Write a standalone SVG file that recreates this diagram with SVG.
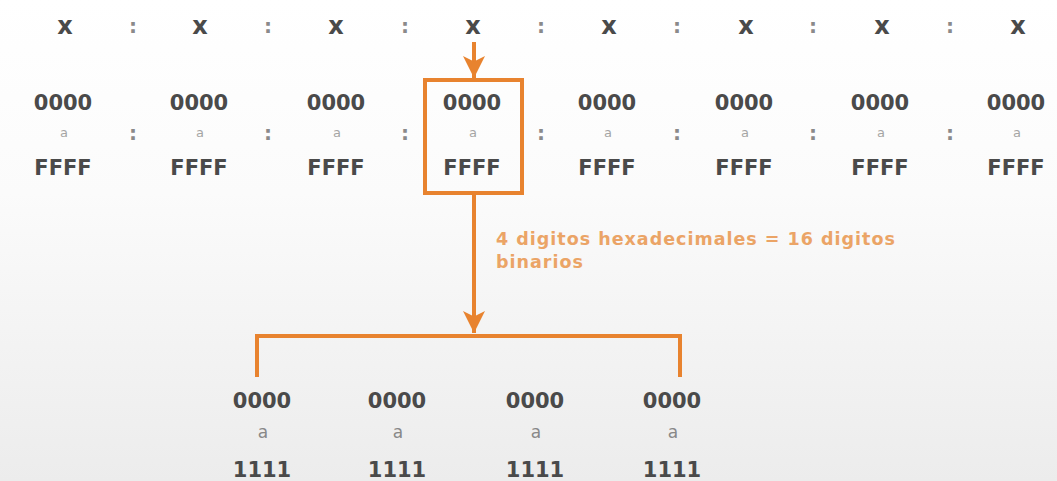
<svg xmlns="http://www.w3.org/2000/svg" width="1057" height="481" viewBox="0 0 1057 481">
<defs>
<linearGradient id="bg" x1="0" y1="0" x2="0" y2="1">
<stop offset="0" stop-color="#ffffff"/>
<stop offset="0.4" stop-color="#fbfbfb"/>
<stop offset="1" stop-color="#ececec"/>
</linearGradient>
<marker id="ah" viewBox="0 0 10 10" refX="10" refY="5" markerWidth="5.5" markerHeight="5.5" markerUnits="strokeWidth" orient="auto">
<path d="M0,0 L10,5 L0,10 L2.5,5 Z" fill="#e8832f"/>
</marker>
<style>
.t{font-family:"DejaVu Sans",sans-serif;font-weight:bold;fill:#4a4a4a;text-anchor:middle}
.x{font-size:24px}
.n{font-size:21px}
.a{font-family:"DejaVu Sans",sans-serif;font-size:13px;fill:#a5a5a5;text-anchor:middle}
.ab{font-family:"DejaVu Sans",sans-serif;font-size:17px;fill:#888888;text-anchor:middle}
.c{font-family:"DejaVu Sans",sans-serif;font-weight:bold;font-size:20px;fill:#8a8a8a;text-anchor:middle}
.ln{fill:none;stroke:#e8832f;stroke-width:4}
.lbl{font-family:"DejaVu Sans",sans-serif;font-weight:bold;font-size:17.5px;letter-spacing:1px;fill:#eba466}
</style>
</defs>
<rect width="1057" height="481" fill="url(#bg)"/>

<g id="top-row">
<text class="t x" x="65" y="34">x</text>
<text class="t x" x="200" y="34">x</text>
<text class="t x" x="336" y="34">x</text>
<text class="t x" x="473" y="34">x</text>
<text class="t x" x="609" y="34">x</text>
<text class="t x" x="746" y="34">x</text>
<text class="t x" x="882" y="34">x</text>
<text class="t x" x="1018" y="34">x</text>
<text class="c" x="133" y="33">:</text>
<text class="c" x="268" y="33">:</text>
<text class="c" x="405" y="33">:</text>
<text class="c" x="541" y="33">:</text>
<text class="c" x="677" y="33">:</text>
<text class="c" x="813" y="33">:</text>
<text class="c" x="950" y="33">:</text>
</g>

<g id="hextet-1"><text class="t n" x="63" y="110">0000</text><text class="a" x="64" y="137">a</text><text class="t n" x="63" y="175">FFFF</text></g>
<g id="hextet-2"><text class="t n" x="199" y="110">0000</text><text class="a" x="200" y="137">a</text><text class="t n" x="199" y="175">FFFF</text></g>
<g id="hextet-3"><text class="t n" x="336" y="110">0000</text><text class="a" x="337" y="137">a</text><text class="t n" x="336" y="175">FFFF</text></g>
<g id="hextet-4"><rect x="425" y="80" width="97" height="113" fill="none" stroke="#e8832f" stroke-width="4"/><text class="t n" x="472" y="110">0000</text><text class="a" x="473" y="137">a</text><text class="t n" x="472" y="175">FFFF</text></g>
<g id="hextet-5"><text class="t n" x="607" y="110">0000</text><text class="a" x="608" y="137">a</text><text class="t n" x="607" y="175">FFFF</text></g>
<g id="hextet-6"><text class="t n" x="744" y="110">0000</text><text class="a" x="745" y="137">a</text><text class="t n" x="744" y="175">FFFF</text></g>
<g id="hextet-7"><text class="t n" x="880" y="110">0000</text><text class="a" x="881" y="137">a</text><text class="t n" x="880" y="175">FFFF</text></g>
<g id="hextet-8"><text class="t n" x="1016" y="110">0000</text><text class="a" x="1017" y="137">a</text><text class="t n" x="1016" y="175">FFFF</text></g>

<g id="mid-colons">
<text class="c" x="133" y="140">:</text>
<text class="c" x="268" y="140">:</text>
<text class="c" x="405" y="140">:</text>
<text class="c" x="541" y="140">:</text>
<text class="c" x="677" y="140">:</text>
<text class="c" x="813" y="140">:</text>
<text class="c" x="950" y="140">:</text>
</g>

<g id="connectors">
<line class="ln" x1="474" y1="42" x2="474" y2="78" marker-end="url(#ah)"/>
<line class="ln" x1="474" y1="195" x2="474" y2="333" marker-end="url(#ah)"/>
<path class="ln" d="M257,377 V336 H680 V377"/>
</g>

<g id="label">
<text class="lbl" x="496" y="245">4 digitos hexadecimales = 16 digitos</text>
<text class="lbl" x="496" y="268">binarios</text>
</g>

<g id="bin-1"><text class="t n" x="262" y="408">0000</text><text class="ab" x="263" y="438">a</text><text class="t n" x="262" y="477">1111</text></g>
<g id="bin-2"><text class="t n" x="397" y="408">0000</text><text class="ab" x="398" y="438">a</text><text class="t n" x="397" y="477">1111</text></g>
<g id="bin-3"><text class="t n" x="535" y="408">0000</text><text class="ab" x="536" y="438">a</text><text class="t n" x="535" y="477">1111</text></g>
<g id="bin-4"><text class="t n" x="672" y="408">0000</text><text class="ab" x="673" y="438">a</text><text class="t n" x="672" y="477">1111</text></g>
</svg>
